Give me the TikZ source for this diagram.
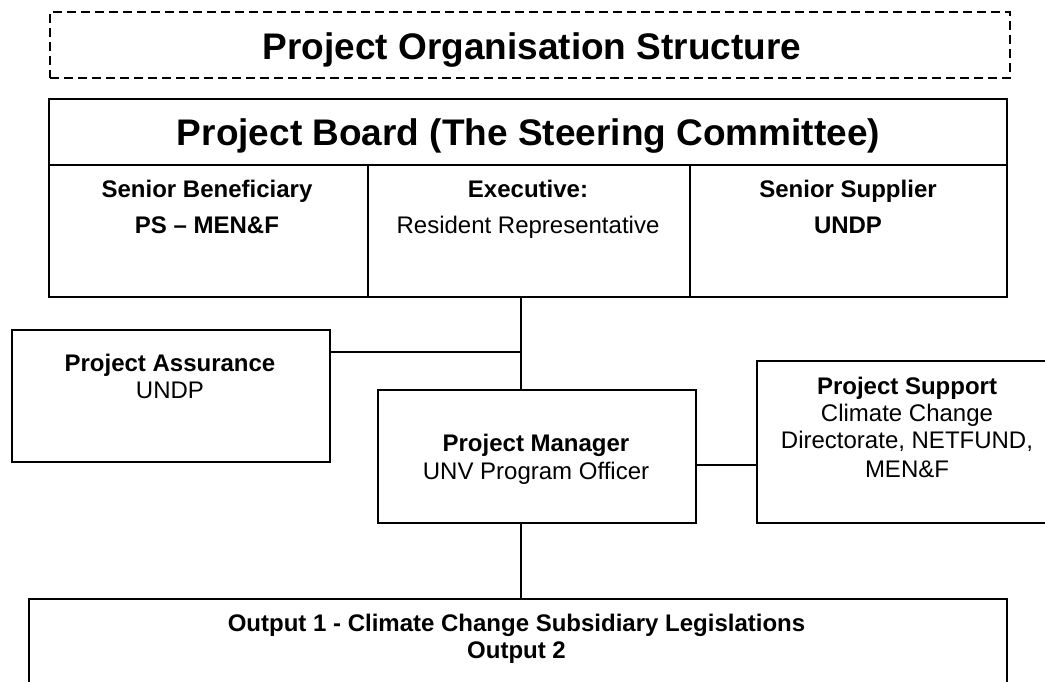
\documentclass[tikz,border=0pt]{standalone}
\usepackage{fontspec}
\setmainfont{Liberation Sans}
\begin{document}
\begin{tikzpicture}[x=1pt,y=-1pt,
  box/.style={draw,line width=1.8pt,inner sep=0pt},
  link/.style={line width=1.6pt},
  bigtxt/.style={inner sep=0pt,anchor=base,font=\fontsize{37}{44}\selectfont\bfseries},
  hd/.style={inner sep=0pt,anchor=base,font=\fontsize{24}{28}\selectfont\bfseries},
  tx/.style={inner sep=0pt,anchor=base,font=\fontsize{24}{28}\selectfont}]
\useasboundingbox (0,0) rectangle (1045,681);

% heading
\node[box,dash pattern=on 9pt off 5pt,minimum width=960pt,minimum height=66pt] (head) at (530,45) {};
\node[bigtxt] (headtxt) at (532,59) {Project Organisation Structure};

% project board
\node[box,minimum width=958pt,minimum height=66pt] (board) at (528,132) {};
\node[bigtxt] (boardtxt) at (528.5,145) {Project Board (The Steering Committee)};
\node[box,minimum width=319pt,minimum height=132pt] (ben) at (208.5,231) {};
\node[box,minimum width=322pt,minimum height=132pt] (exe) at (529,231) {};
\node[box,minimum width=317pt,minimum height=132pt] (sup) at (848.5,231) {};
\node[hd] (ben1) at (207,197) {Senior Beneficiary};
\node[hd] (ben2) at (207,233) {PS – MEN\&F};
\node[hd] (exe1) at (528,197) {Executive:};
\node[tx] (exe2) at (528,233) {Resident Representative};
\node[hd] (sup1) at (848,197) {Senior Supplier};
\node[hd] (sup2) at (848,233) {UNDP};

% project assurance
\node[box,minimum width=318pt,minimum height=132pt] (pa) at (171,396) {};
\node[hd] (pa1) at (170,371) {Project Assurance};
\node[tx] (pa2) at (170,398) {UNDP};

% project manager
\node[box,minimum width=318pt,minimum height=133pt] (pm) at (537,456.5) {};
\node[hd] (pm1) at (536,451) {Project Manager};
\node[tx] (pm2) at (536,479) {UNV Program Officer};

% project support
\node[box,minimum width=293pt,minimum height=162pt] (ps) at (903.5,442) {};
\node[hd] (ps1) at (907,394) {Project Support};
\node[tx] (ps2) at (907,421) {Climate Change};
\node[tx] (ps3) at (907,448) {Directorate, NETFUND,};
\node[tx] (ps4) at (907,477) {MEN\&F};

% outputs
\node[box,minimum width=978pt,minimum height=110pt] (out) at (518,654) {};
\node[hd] (out1) at (516.5,631) {Output 1 - Climate Change Subsidiary Legislations};
\node[hd] (out2) at (516.5,658) {Output 2};

% connectors
\coordinate (spine) at (521,352);
\coordinate (side) at (727,465);
\draw[link] (exe.south -| spine) -- (pm.north -| spine);
\draw[link] (pa.east |- spine) -- (spine);
\draw[link] (pm.east |- side) -- (ps.west |- side);
\draw[link] (pm.south -| spine) -- (out.north -| spine);
\end{tikzpicture}
\end{document}
